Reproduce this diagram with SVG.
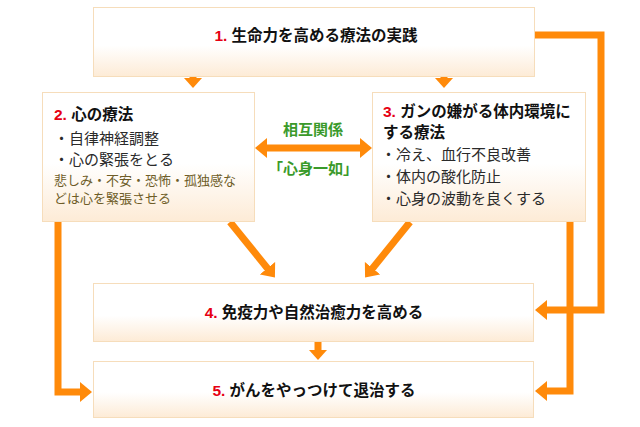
<svg xmlns="http://www.w3.org/2000/svg" width="640" height="427" viewBox="0 0 640 427">
<style>
.box{stroke:#F6DDBB;stroke-width:1;fill:url(#bg)}
.h{font-family:"Noto Sans CJK JP","Liberation Sans",sans-serif;font-weight:700;fill:#111;font-size:15.5px}
.n{font-family:"Liberation Sans","Noto Sans CJK JP",sans-serif;font-weight:700;fill:#E60012}
.t{font-family:"Noto Sans CJK JP",sans-serif;font-weight:400;fill:#2A2A2A;font-size:15px}
.o{font-family:"Noto Sans CJK JP",sans-serif;font-weight:400;fill:#6E5D28;font-size:13px}
.g{font-family:"Noto Sans CJK JP",sans-serif;font-weight:700;fill:#3A9A2A;font-size:15px}
.c{fill:none;stroke:#FF8A0A;stroke-width:7}
</style>
<defs>
<linearGradient id="bg" x1="0" y1="0" x2="0" y2="1">
<stop offset="0" stop-color="#FFFFFF"/>
<stop offset="0.55" stop-color="#FFFFFF"/>
<stop offset="1" stop-color="#FDEBD6"/>
</linearGradient>
<marker id="ah" markerUnits="userSpaceOnUse" viewBox="0 0 12 20" markerWidth="12" markerHeight="20" refX="1" refY="10" orient="auto-start-reverse">
<path d="M0,0 L12,10 L0,20 Z" fill="#FF8A0A"/>
</marker>
<marker id="ahs" markerUnits="userSpaceOnUse" viewBox="0 0 10 18" markerWidth="10" markerHeight="18" refX="1" refY="9" orient="auto">
<path d="M0,0 L10,9 L0,18 Z" fill="#FF8A0A"/>
</marker>
</defs>
<g id="connectors">
<path class="c" d="M193,77 V79" marker-end="url(#ahs)"/>
<path class="c" d="M444,77 V79" marker-end="url(#ahs)"/>
<path class="c" d="M266,148 H361" marker-start="url(#ah)" marker-end="url(#ah)"/>
<path class="c" d="M230,222 L268,269" marker-end="url(#ah)"/>
<path class="c" d="M410,222 L372,269" marker-end="url(#ah)"/>
<path class="c" d="M535,35 H601 V310 H546" marker-end="url(#ah)"/>
<path class="c" d="M570,222 V391 H546" marker-end="url(#ah)"/>
<path class="c" d="M58,222 V392 H81" marker-end="url(#ah)"/>
<path class="c" d="M318,342 V351" marker-end="url(#ahs)"/>
</g>
<g id="node1">
<rect class="box" x="93.5" y="7.5" width="441" height="69"/>
<text class="h" x="316" y="41" text-anchor="middle"><tspan class="n">1. </tspan>生命力を高める療法の実践</text>
</g>
<g id="node2">
<rect class="box" x="42.5" y="92.5" width="212" height="129"/>
<text class="h" x="54" y="120"><tspan class="n">2. </tspan>心の療法</text>
<text class="t" x="54" y="144">・自律神経調整</text>
<text class="t" x="54" y="165">・心の緊張をとる</text>
<text class="o" x="54" y="185">悲しみ・不安・恐怖・孤独感な</text>
<text class="o" x="54" y="203">どは心を緊張させる</text>
</g>
<g id="node3">
<rect class="box" x="372.5" y="92.5" width="213" height="129"/>
<text class="h" x="383" y="117"><tspan class="n">3. </tspan>ガンの嫌がる体内環境に</text>
<text class="h" x="383" y="138">する療法</text>
<text class="t" x="381" y="160">・冷え、血行不良改善</text>
<text class="t" x="381" y="182">・体内の酸化防止</text>
<text class="t" x="381" y="204">・心身の波動を良くする</text>
</g>
<g id="relation">
<text class="g" x="313" y="135" text-anchor="middle">相互関係</text>
<text class="g" x="313" y="174" text-anchor="middle" font-size="14">「心身一如」</text>
</g>
<g id="node4">
<rect class="box" x="93.5" y="283.5" width="440" height="58"/>
<text class="h" x="314" y="318" text-anchor="middle"><tspan class="n">4. </tspan>免疫力や自然治癒力を高める</text>
</g>
<g id="node5">
<rect class="box" x="93.5" y="361.5" width="440" height="56"/>
<text class="h" x="314" y="396" text-anchor="middle"><tspan class="n">5. </tspan>がんをやっつけて退治する</text>
</g>
</svg>
